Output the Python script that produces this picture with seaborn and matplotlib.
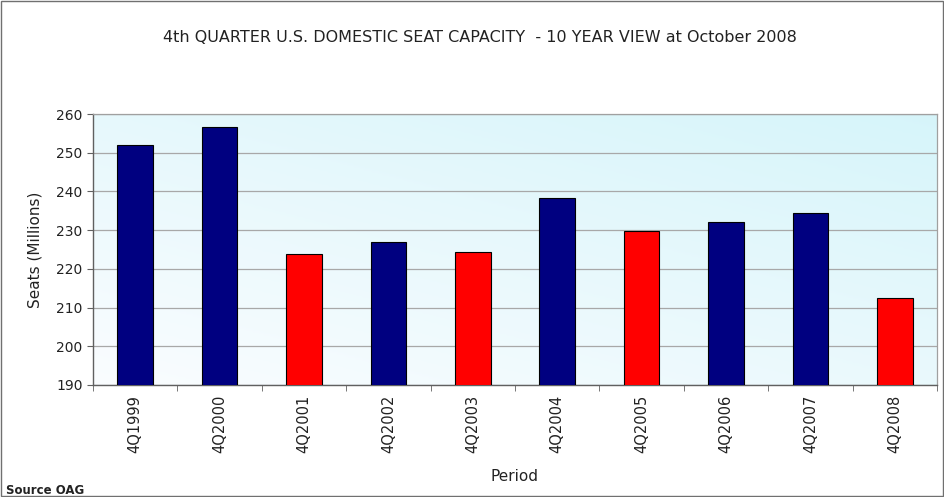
import numpy as np
import pandas as pd
import matplotlib
matplotlib.use("Agg")
import matplotlib.pyplot as plt
import seaborn as sns

periods = ["4Q1999", "4Q2000", "4Q2001", "4Q2002", "4Q2003",
           "4Q2004", "4Q2005", "4Q2006", "4Q2007", "4Q2008"]
seats = [252.0, 256.6, 223.8, 227.0, 224.3, 238.3, 229.8, 232.0, 234.3, 212.6]
bar_colors = ["#000080", "#000080", "#ff0000", "#000080", "#ff0000",
              "#000080", "#ff0000", "#000080", "#000080", "#ff0000"]
yticks = [190, 200, 210, 220, 230, 240, 250, 260]

sns.set_style("white")
plt.rcParams['font.family'] = ['DejaVu Sans']

df = pd.DataFrame({"Period": periods, "Seats": seats})

fig = plt.figure(figsize=(9.45, 4.97), dpi=100)
ax = fig.add_axes([93/945, 1-385/497, (937-93)/945, (385-114)/497])

# gradient background
ny, nx = 100, 100
yy, xx = np.mgrid[0:1:complex(ny), 0:1:complex(nx)]
t = np.clip(0.55*yy + 0.45*xx, 0, 1)
top = np.array([0.84, 0.96, 0.98])
bot = np.array([0.98, 0.99, 1.0])
img = bot[None, None, :]*(1-t[..., None]) + top[None, None, :]*t[..., None]
img = img[::-1]
ax.imshow(img, extent=[0, 1, 0, 1], transform=ax.transAxes, aspect="auto",
          zorder=0, origin="upper")

sns.barplot(data=df, x="Period", y="Seats", hue="Period", palette=bar_colors,
            width=0.42, edgecolor="black", linewidth=0.8, legend=False, ax=ax,
            zorder=3, saturation=1)

ax.set_ylim(190, 260)
ax.set_xlim(-0.5, 9.5)
ax.set_yticks(yticks)
ax.set_yticklabels([str(v) for v in yticks], fontsize=10, color="#222222")
ax.grid(axis="y", color="#a8a8a8", linewidth=0.9, zorder=1)
ax.set_axisbelow(True)
for s in ["top", "right"]:
    ax.spines[s].set_color("#a0a0a0")
    ax.spines[s].set_linewidth(0.9)
for s in ["left", "bottom"]:
    ax.spines[s].set_color("#606060")
    ax.spines[s].set_linewidth(1.0)
ax.set_xticks(range(len(periods)))
ax.set_xticklabels(periods, rotation=90, fontsize=10.5, color="#222222")
ax.set_xticks(np.arange(-0.5, 10, 1), minor=True)
ax.tick_params(axis="x", which="major", length=0, pad=7)
ax.tick_params(axis="x", which="minor", length=4, color="#606060", bottom=True)
ax.tick_params(axis="y", length=4, direction="out", color="#606060", left=True)
ax.set_xlabel("Period", fontsize=11, color="#222222")
ax.set_ylabel("Seats (Millions)", fontsize=11, color="#222222")
ax.xaxis.set_label_coords(0.5, (385-469)/271)
ax.yaxis.set_label_coords((43-93)/844, 0.5)

fig.text(0.508, 1-38/497, "4th QUARTER U.S. DOMESTIC SEAT CAPACITY  - 10 YEAR VIEW at October 2008",
         ha="center", va="center", fontsize=11.5, color="#222222")
fig.text(6/945, 1-490/497, "Source OAG", ha="left", va="center", fontsize=8.5,
         fontweight="bold", color="#222222")

border = plt.Rectangle((0.001, 0.002), 0.997, 0.995, transform=fig.transFigure,
                       fill=False, edgecolor="#707070", linewidth=1.0)
fig.patches.append(border)

fig.savefig("out.png", dpi=100)
